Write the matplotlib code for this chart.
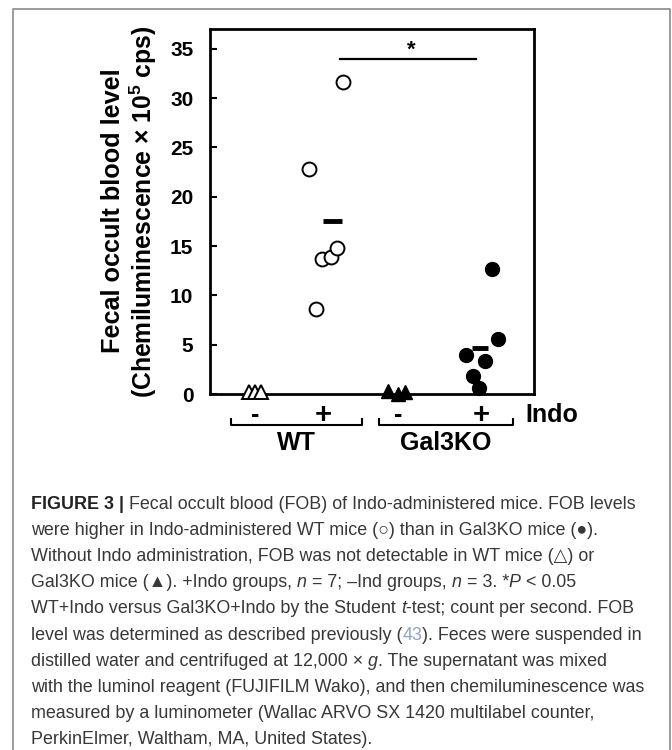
import matplotlib
matplotlib.use("Agg")
import matplotlib.pyplot as plt
import numpy as np
from matplotlib.lines import Line2D
from matplotlib.transforms import blended_transform_factory

plt.rcParams["font.family"] = ["Liberation Sans", "DejaVu Sans"]
plt.rcParams["mathtext.fontset"] = "custom"
plt.rcParams["mathtext.rm"] = "Liberation Sans:bold"
plt.rcParams["mathtext.bf"] = "Liberation Sans:bold"
plt.rcParams["mathtext.it"] = "Liberation Sans:italic"

# values (x 10^5 cps)
wt_ctrl = [0.25, 0.25, 0.25]
wt_indo = [22.8, 8.6, 13.7, 13.9, 14.8, 31.6]
ko_ctrl = [0.3, 0.0, 0.2]
ko_indo = [4.0, 1.8, 0.6, 3.3, 12.7, 5.6]
indo_labels = ["-", "+", "-", "+"]
group_labels = ["WT", "Gal3KO"]
yticks = [0, 5, 10, 15, 20, 25, 30, 35]
sig_level = 34.0

# horizontal scatter of the dots inside each column (x units)
wt_ctrl_dx = [-0.19, 0.0, 0.19]
wt_indo_dx = [-0.43, -0.22, -0.03, 0.25, 0.43, 0.62]
ko_ctrl_dx = [-0.31, 0.0, 0.22]
ko_indo_dx = [-0.46, -0.25, -0.06, 0.12, 0.34, 0.52]

caption_lines = [
    [("FIGURE 3 |", "b"), (" Fecal occult blood (FOB) of Indo-administered mice. FOB levels", "")],
    [("were higher in Indo-administered WT mice (\u25cb) than in Gal3KO mice (\u25cf).", "")],
    [("Without Indo administration, FOB was not detectable in WT mice (\u25b3) or", "")],
    [("Gal3KO mice (\u25b2). +Indo groups, ", ""), ("n", "i"), (" = 7; \u2013Ind groups, ", ""),
     ("n", "i"), (" = 3. *", ""), ("P", "i"), (" < 0.05", "")],
    [("WT+Indo versus Gal3KO+Indo by the Student ", ""), ("t", "i"),
     ("-test; count per second. FOB", "")],
    [("level was determined as described previously (", ""), ("43", "c"),
     ("). Feces were suspended in", "")],
    [("distilled water and centrifuged at 12,000 \u00d7 ", ""), ("g", "i"),
     (". The supernatant was mixed", "")],
    [("with the luminol reagent (FUJIFILM Wako), and then chemiluminescence was", "")],
    [("measured by a luminometer (Wallac ARVO SX 1420 multilabel counter,", "")],
    [("PerkinElmer, Waltham, MA, United States).", "")],
]

W, H = 672, 750
fig = plt.figure(figsize=(W / 100, H / 100), dpi=100)
ax = fig.add_axes([210 / W, 1 - 394 / H, 324 / W, 365 / H])

centers = [1.39, 3.49, 5.80, 8.36]
ms = 10

ax.plot(centers[0] + np.array(wt_ctrl_dx), wt_ctrl, "^", ms=ms, mfc="white", mec="black",
        mew=1.4, ls="none", clip_on=False, zorder=3)
ax.plot(centers[1] + np.array(wt_indo_dx), wt_indo, "o", ms=ms, mfc="white", mec="black",
        mew=1.4, ls="none", clip_on=False, zorder=3)
ax.plot(centers[2] + np.array(ko_ctrl_dx), ko_ctrl, "^", ms=ms, mfc="black", mec="black",
        ls="none", clip_on=False, zorder=3)
ax.plot(centers[3] + np.array(ko_indo_dx), ko_indo, "o", ms=ms, mfc="black", mec="black",
        ls="none", clip_on=False, zorder=3)

# group means
for c, off, half, vals in [(centers[1], 0.29, 0.30, wt_indo), (centers[3], -0.02, 0.24, ko_indo)]:
    m = np.mean(vals)
    ax.plot([c + off - half, c + off + half], [m, m], color="black", lw=3.5,
            solid_capstyle="butt", zorder=4)

# significance bar
ax.plot([4.0, 8.2], [sig_level, sig_level], color="black", lw=1.6)
ax.text(6.2, sig_level - 0.2, "*", ha="center", va="bottom", fontsize=16, fontweight="bold")

ax.set_xlim(0, 10)
ax.set_ylim(0, 37)
ax.set_xticks([])
ax.set_yticks(yticks)
ax.tick_params(axis="y", direction="in", length=5, width=1.5, pad=12, labelsize=15)
for lbl in ax.get_yticklabels():
    lbl.set_fontweight("bold")
for sp in ax.spines.values():
    sp.set_linewidth(2)

# category labels and brackets under the axis
tr = blended_transform_factory(ax.transData, ax.transAxes)
for c, lab in zip(centers, indo_labels):
    ax.text(c, -0.058, lab, transform=tr, ha="center", va="center",
            fontsize=18 if lab == "-" else 21, fontweight="bold")
for (x0, x1), lab in zip([(0.65, 4.69), (5.22, 9.35)], group_labels):
    ax.add_line(Line2D([x0, x0, x1, x1], [-0.068, -0.085, -0.085, -0.068], transform=tr,
                       color="black", lw=1.5, clip_on=False))
    ax.text((x0 + x1) / 2, -0.134, lab, transform=tr, ha="center", va="center",
            fontsize=18, fontweight="bold")
ax.text(9.72, -0.058, "Indo", transform=tr, ha="left", va="center", fontsize=18,
        fontweight="bold")

# y label (two lines)
fig.text(113 / W, 1 - 211 / H, "Fecal occult blood level", rotation=90, ha="center",
         va="center", fontsize=18.2, fontweight="bold")
fig.text(143 / W, 1 - 212 / H, "(Chemiluminescence \u00d7 10$^{\\mathbf{5}}$ cps)",
         rotation=90, ha="center", va="center", fontsize=17.8, fontweight="bold")

# caption frame
frame = dict(color="#8a8a8a", lw=1.2, transform=fig.transFigure, clip_on=False)
fig.add_artist(Line2D([13 / W, 13 / W, 670 / W, 670 / W], [0, 1 - 9 / H, 1 - 9 / H, 0], **frame))

# caption text, drawn piece by piece
renderer = fig.canvas.get_renderer()


def seg_kw(size, style):
    kw = dict(fontsize=size, color="#383838", family=["Liberation Sans", "DejaVu Sans"])
    if style == "b":
        kw["fontweight"] = "bold"
        kw["color"] = "#222222"
    elif style == "i":
        kw["fontstyle"] = "italic"
    elif style == "c":
        kw["color"] = "#8fa3c4"
    return kw


def seg_width(s, size, style):
    kw = seg_kw(size, style)
    t1 = fig.text(0, 0, "|" + s + "|", **kw)
    t2 = fig.text(0, 0, "||", **kw)
    w = t1.get_window_extent(renderer).width - t2.get_window_extent(renderer).width
    t1.remove()
    t2.remove()
    return w


base = 12.0
w1 = sum(seg_width(s, base, st) for s, st in caption_lines[0])
cap_size = base * 606 / w1

for i, line in enumerate(caption_lines):
    x = 31
    y = 509 + 26.1 * i
    for s, st in line:
        fig.text(x / W, 1 - y / H, s, ha="left", va="baseline", **seg_kw(cap_size, st))
        x += seg_width(s, cap_size, st)

fig.savefig("out.png", dpi=100)
